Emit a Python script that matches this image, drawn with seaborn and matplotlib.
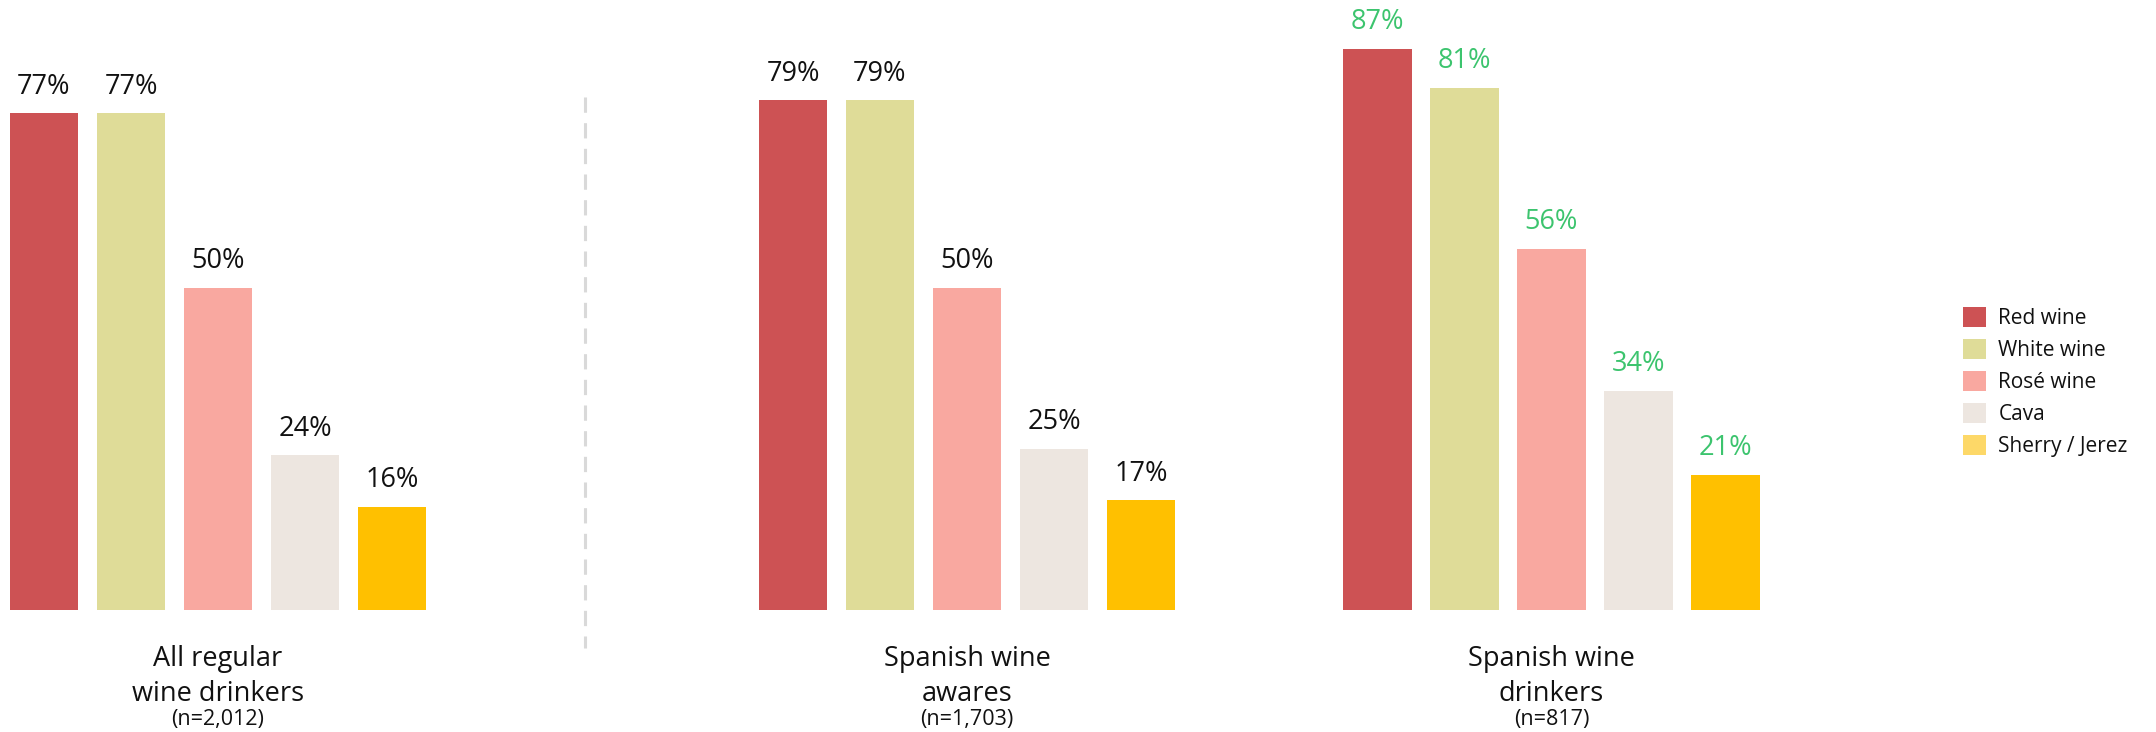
import matplotlib
matplotlib.use("Agg")
import matplotlib.pyplot as plt
from matplotlib.lines import Line2D
from matplotlib.patches import Patch
import pandas as pd
import seaborn as sns

# Wine types drunk, share of each respondent group (%)
wine_types = ["Red wine", "White wine", "Rosé wine", "Cava", "Sherry / Jerez"]
all_regular = [77, 77, 50, 24, 16]
spanish_awares = [79, 79, 50, 25, 17]
spanish_drinkers = [87, 81, 56, 34, 21]

group_titles = ["All regular\nwine drinkers", "Spanish wine\nawares", "Spanish wine\ndrinkers"]
group_sizes = ["(n=2,012)", "(n=1,703)", "(n=817)"]

bar_colors = ["#CD5254", "#DFDC98", "#F9A8A0", "#EDE6E0", "#FFC000"]
legend_colors = ["#CD5254", "#DFDC98", "#F9A8A0", "#EDE6E0", "#FDD868"]
label_colors = ["#111111", "#111111", "#3CC46E"]

sns.set_style("white")
plt.rcParams["font.family"] = ["Open Sans", "DejaVu Sans"]

W, H, DPI = 2156, 732, 100
fig = plt.figure(figsize=(W / DPI, H / DPI), dpi=DPI)

# panel layout in pixels: left edge of each panel, shared baseline and scale
panel_left_px = [0.5, 749.5, 1334.0]
panel_width_px = 435.0
baseline_px = 610.0
y_max = 90
px_per_unit = 6.45

groups = [all_regular, spanish_awares, spanish_drinkers]
for i, values in enumerate(groups):
    df = pd.DataFrame({"wine": wine_types, "share": values})
    ax = fig.add_axes([
        panel_left_px[i] / W,
        (H - baseline_px) / H,
        panel_width_px / W,
        y_max * px_per_unit / H,
    ])
    sns.barplot(data=df, x="wine", y="share", hue="wine", order=wine_types,
                hue_order=wine_types, palette=bar_colors, width=0.787,
                saturation=1, linewidth=0, legend=False, ax=ax)
    ax.set_xlim(-0.5, 4.5)
    ax.set_ylim(0, y_max)
    ax.set_axis_off()
    for cont in ax.containers:
        ax.bar_label(cont, fmt="%.0f%%", padding=9, fontsize=19.5,
                     color=label_colors[i])

    cx = (panel_left_px[i] + panel_width_px / 2) / W
    line1, line2 = group_titles[i].split("\n")
    fig.text(cx, 1 - 659 / H, line1, ha="center", va="center",
             fontsize=19.5, color="#111111")
    fig.text(cx, 1 - 694 / H, line2, ha="center", va="center",
             fontsize=19.5, color="#111111")
    fig.text(cx, 1 - 720 / H, group_sizes[i], ha="center", va="center",
             fontsize=15.5, color="#111111")

# dashed separator between the overall sample and the Spanish-wine groups
fig.add_artist(Line2D([585 / W, 585 / W], [1 - 97 / H, 1 - 648 / H],
                      transform=fig.transFigure, color="#D9D9D9",
                      linewidth=2.2, linestyle=(0, (5, 3.4))))

handles = [Patch(facecolor=c, edgecolor="none") for c in legend_colors]
fig.legend(handles, wine_types, loc="center left",
           bbox_to_anchor=(1963 / W, 1 - 382 / H), frameon=False,
           fontsize=15, handlelength=1.1, handleheight=1.1,
           handletextpad=0.6, labelspacing=0.47, borderpad=0,
           borderaxespad=0, labelcolor="#111111")

fig.savefig("out.png", dpi=DPI)
